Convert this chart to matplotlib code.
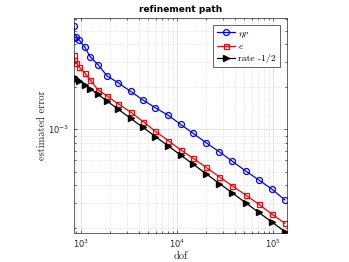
import matplotlib
matplotlib.use("Agg")
import matplotlib.pyplot as plt

plt.rcParams['mathtext.fontset'] = 'cm'

# number of degrees of freedom per refinement step
dof = [854, 860, 902, 969, 1106, 1246, 1510, 1894, 2454, 3302, 4433,
       5976, 8121, 10927, 14772, 20164, 27654, 37754, 51781, 70853,
       96470, 132700]

# error estimator eta_P
eta = [5.34e-3, 4.41e-3, 4.48e-3, 4.26e-3, 3.80e-3, 3.27e-3, 2.86e-3,
       2.37e-3, 2.13e-3, 1.85e-3, 1.61e-3, 1.416e-3, 1.253e-3, 1.081e-3,
       9.33e-4, 8.00e-4, 6.90e-4, 5.91e-4, 5.06e-4, 4.37e-4, 3.77e-4,
       3.15e-4]

# error e
err = [3.34e-3, 3.08e-3, 2.93e-3, 2.74e-3, 2.49e-3, 2.24e-3, 1.90e-3,
       1.71e-3, 1.51e-3, 1.32e-3, 1.133e-3, 9.65e-4, 8.30e-4, 7.13e-4,
       6.21e-4, 5.36e-4, 4.59e-4, 3.96e-4, 3.42e-4, 2.94e-4, 2.51e-4,
       2.15e-4]

# reference rate -1/2
rate = [2.344e-3, 2.336e-3, 2.281e-3, 2.200e-3, 2.060e-3, 1.941e-3,
        1.763e-3, 1.574e-3, 1.383e-3, 1.192e-3, 1.029e-3, 8.86e-4,
        7.60e-4, 6.55e-4, 5.64e-4, 4.82e-4, 4.12e-4, 3.53e-4, 3.01e-4,
        2.57e-4, 2.205e-4, 1.88e-4]

fig = plt.figure(figsize=(3.49, 2.62), dpi=100)
ax = fig.add_axes([0.212, 0.111, 0.610, 0.821])

ax.loglog(dof, eta, '-o', color='#0000ff', lw=0.9, ms=4.3, mfc='none', mew=0.9, label=r'$\eta_P$')
ax.loglog(dof, err, '-s', color='#ff0000', lw=0.9, ms=3.6, mfc='none', mew=0.9, label=r'$e$')
ax.loglog(dof, rate, '->', color='black', lw=0.9, ms=4.8, label='rate -1/2')

ax.set_xlim(850, 1.39e5)
ax.set_ylim(1.84e-4, 6.15e-3)

ax.grid(True, which='major', color='#d8d8d8', lw=0.5, ls='-')
ax.grid(True, which='minor', color='#d0d0d0', lw=0.5, ls=':')
ax.set_axisbelow(True)

for s in ax.spines.values():
    s.set_color('#262626')
    s.set_linewidth(0.5)
ax.tick_params(which='both', direction='in', top=True, right=True,
               colors='#262626', labelsize=6, width=0.5)
ax.tick_params(which='major', length=2.5)
ax.tick_params(which='minor', length=1.5)

ax.set_title('refinement path', fontsize=6.5, fontweight='bold', pad=4)
ax.set_xlabel('dof', fontfamily='cmr10', fontsize=7.5, labelpad=1, color='#262626')
ax.set_ylabel('estimated error', fontfamily='cmr10', fontsize=7.5, labelpad=1, color='#262626')

leg = ax.legend(loc='upper right', bbox_to_anchor=(0.967, 0.967), borderaxespad=0,
                prop={'family': 'cmr10', 'size': 7}, fancybox=False, framealpha=1,
                handlelength=1.9, handletextpad=0.3, borderpad=0.4, labelspacing=0.3)
leg.get_frame().set_edgecolor('#262626')
leg.get_frame().set_linewidth(0.5)

fig.savefig('out.png', dpi=100)
